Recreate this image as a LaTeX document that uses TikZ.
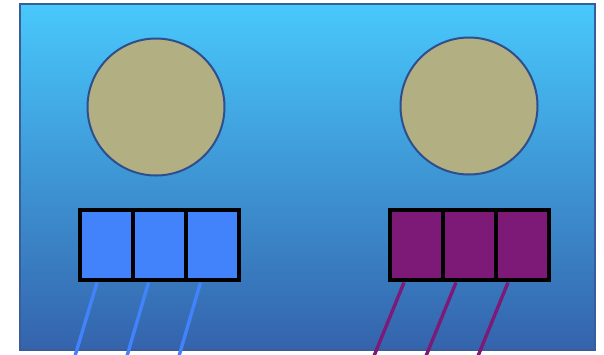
\documentclass[tikz,border=0pt]{standalone}
\usetikzlibrary{shadows}
\definecolor{bgtop}{HTML}{48C8FC}
\definecolor{bgbot}{HTML}{3463AC}
\definecolor{frameedge}{HTML}{3A5C9A}
\definecolor{khaki}{HTML}{B2AF82}
\definecolor{circedge}{HTML}{2F4E8C}
\definecolor{bluebox}{HTML}{4283FC}
\definecolor{purplebox}{HTML}{7D1A78}
\tikzset{
  frame/.style={draw=frameedge, line width=1.5pt, top color=bgtop, bottom color=bgbot},
  disc/.style={circle, draw=circedge, line width=2pt, fill=khaki, minimum size=137pt, inner sep=0pt},
  cell/.style={draw=black, line width=3.6pt, minimum width=53pt, minimum height=70pt, inner sep=0pt},
  bluecell/.style={cell, fill=bluebox},
  purplecell/.style={cell, fill=purplebox},
  blueleg/.style={draw=bluebox, line width=3.4pt},
  purpleleg/.style={draw=purplebox, line width=3.4pt}
}
\begin{document}
\begin{tikzpicture}[x=1pt,y=-1pt]
\useasboundingbox (0,0) rectangle (604,354);
\node[frame, rectangle, minimum width=575pt, minimum height=346pt, inner sep=0pt] (bg) at (307.5,177) {};
\node[disc] (c1) at (156,107) {};
\node[disc] (c2) at (469,106) {};
% left cells
\node[bluecell] (b1) at (106.5,245) {};
\node[bluecell] (b2) at (159.5,245) {};
\node[bluecell] (b3) at (212.5,245) {};
% right cells
\node[purplecell] (p1) at (416.5,245) {};
\node[purplecell] (p2) at (469.5,245) {};
\node[purplecell] (p3) at (522.5,245) {};
% legs
\coordinate (b1t) at (97,282.5);  \coordinate (b1e) at (75,356);
\coordinate (b2t) at (148.5,282.5); \coordinate (b2e) at (127,356);
\coordinate (b3t) at (200.5,282.5); \coordinate (b3e) at (179,356);
\coordinate (p1t) at (404,282.5); \coordinate (p1e) at (374,356);
\coordinate (p2t) at (456,282.5); \coordinate (p2e) at (426,356);
\coordinate (p3t) at (508,282.5); \coordinate (p3e) at (478,356);
\draw[blueleg] (b1t) -- (b1e);
\draw[blueleg] (b2t) -- (b2e);
\draw[blueleg] (b3t) -- (b3e);
\draw[purpleleg] (p1t) -- (p1e);
\draw[purpleleg] (p2t) -- (p2e);
\draw[purpleleg] (p3t) -- (p3e);
\end{tikzpicture}
\end{document}
